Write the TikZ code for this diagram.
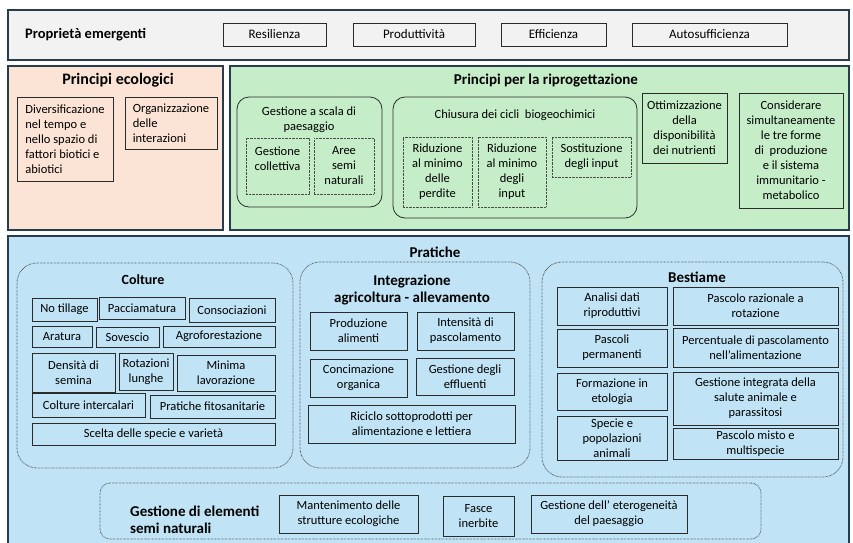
\documentclass[tikz,border=0pt]{standalone}
\usepackage{fontspec}
\setmainfont{Carlito}
\usetikzlibrary{positioning}
\definecolor{frameline}{HTML}{253D4F}
\definecolor{lightgrey}{HTML}{F2F2F2}
\definecolor{peach}{HTML}{FBE4D5}
\definecolor{mint}{HTML}{C5EEC8}
\definecolor{sky}{HTML}{C0E4F5}
\definecolor{boxline}{HTML}{2B2B2B}

\begin{document}
\begin{tikzpicture}[x=1pt,y=-1pt,font=\fontsize{12.5}{15}\selectfont,
sz/.style 2 args={minimum width=#1pt,minimum height=#2pt},
panel/.style={draw=frameline,line width=1.8pt,inner sep=0pt},
item/.style={draw=boxline,line width=.8pt,align=center,inner sep=1pt},
dotbox/.style={draw=boxline!85,dash pattern=on .6pt off .8pt,line width=.8pt,align=center,inner sep=1pt},
group/.style={draw=boxline,line width=.8pt,rounded corners=12pt,inner sep=0pt},
dotgroup/.style={draw=boxline!85,dash pattern=on .6pt off .8pt,line width=.8pt,rounded corners=20pt,inner sep=0pt},
head/.style={font=\fontsize{15}{17}\selectfont\bfseries,align=center,inner sep=0pt}]
\useasboundingbox[fill=white] (0,0) rectangle (853,542);
\node[panel,fill=lightgrey,sz={841}{50}] (props) at (428.5,35) {};
\node[head,font=\fontsize{14.5}{17}\selectfont\bfseries,anchor=west] (propstitle) at (25,35) {Proprietà emergenti};
\foreach \n/\x/\w/\t in {res/274.5/103/Resilienza,prod/414/122/Produttività,eff/553.5/105/Efficienza,auto/709.5/155/Autosufficienza}{\node[item,sz={\w}{23},font=\fontsize{13}{15}\selectfont] (\n) at (\x,34.5) {\t};}
\node[panel,fill=peach,sz={215}{164}] (eco) at (115.5,148) {};
\node[head,font=\fontsize{16}{18}\selectfont\bfseries] (ecotitle) at (118,80) {Principi ecologici};
\node[item,sz={96}{84},align=left] (divers) at (65,139) {Diversificazione\\nel tempo e\\nello spazio di\\fattori biotici e\\abiotici};
\node[item,sz={92}{52},align=left] (organ) at (171,123) {Organizzazione\\delle\\interazioni};
\node[panel,fill=mint,sz={619}{164}] (redesign) at (539.5,148) {};
\node[head] (redesigntitle) at (546,81) {Principi per la riprogettazione};
\node[group,sz={145}{110}] (landscape) at (309.5,152) {};
\node[align=center,inner sep=0pt] (landscapetxt) at (309,120) {Gestione a scala di\\paesaggio};
\node[dotbox,sz={63}{56}] (collective) at (277.5,166) {Gestione\\collettiva\\\mbox{}};
\node[dotbox,sz={60}{56}] (seminat) at (344,166) {Aree\\semi\\naturali};
\node[group,sz={244}{121}] (cycles) at (515,157.5) {};
\node[inner sep=0pt] (cyclestxt) at (515,115) {Chiusura dei cicli~ biogeochimici};
\node[dotbox,sz={69}{70}] (losses) at (437.5,172) {Riduzione\\al minimo\\delle\\perdite};
\node[dotbox,sz={68}{70}] (inputs) at (512,172) {Riduzione\\al minimo\\degli\\input};
\node[dotbox,sz={79}{40}] (subst) at (591.5,157) {Sostituzione\\degli input};
\node[item,sz={85}{70}] (nutr) at (684.5,128) {Ottimizzazione\\della\\disponibilità\\dei nutrienti};
\node[item,sz={104}{115}] (simult) at (791,150.5) {Considerare\\simultaneamente\\le tre forme\\di~ produzione\\e il sistema\\immunitario -\\metabolico};
\node[panel,fill=sky,sz={841}{310}] (practice) at (428.5,391) {};
\node[head] (practicetitle) at (435,252) {Pratiche};
\node[dotgroup,sz={276}{205}] (crops) at (155,365.5) {};
\node[head,font=\fontsize{14}{17}\selectfont\bfseries] (cropstitle) at (143,280) {Colture};
\node[item,sz={65}{23}] (notill) at (64.5,309.5) {No tillage};
\node[item,sz={86}{22}] (mulch) at (142,308) {Pacciamatura};
\node[item,sz={86}{24}] (intercrop) at (232,310) {Consociazioni};
\node[item,sz={60}{21}] (plough) at (62,336.5) {Aratura};
\node[item,sz={63}{20}] (green) at (127.5,337) {Sovescio};
\node[item,sz={112}{21}] (agrofor) at (219,336.5) {Agroforestazione};
\node[item,sz={83}{39}] (density) at (73.5,372.5) {Densità di\\semina};
\node[item,sz={54}{37}] (rotation) at (146,371.5) {Rotazioni\\lunghe};
\node[item,sz={98}{36}] (mintill) at (226,373) {Minima\\lavorazione};
\node[item,sz={113}{24}] (relay) at (88.5,405) {Colture intercalari};
\node[item,sz={125}{23}] (phyto) at (212.5,406.5) {Pratiche fitosanitarie};
\node[item,sz={243}{22}] (varieties) at (153.5,434) {Scelta delle specie e varietà};
\node[dotgroup,sz={230}{206}] (integr) at (415,365) {};
\node[head] (integrtitle) at (412,290) {Integrazione\\agricoltura - allevamento};
\node[item,sz={97}{38}] (feed) at (358.5,331) {Produzione\\alimenti};
\node[item,sz={97}{38}] (grazing) at (465.5,331) {Intensità di\\pascolamento};
\node[item,sz={97}{38}] (manure) at (358.5,378) {Concimazione\\organica};
\node[item,sz={98}{37}] (effluents) at (465,376.5) {Gestione degli\\effluenti};
\node[item,sz={207}{38}] (recycle) at (411.5,424) {Riciclo sottoprodotti per\\alimentazione e lettiera};
\node[dotgroup,sz={301}{215}] (livestock) at (692.5,369.5) {};
\node[head] (livestocktitle) at (697,277) {Bestiame};
\node[item,sz={110}{38}] (repro) at (612,306) {Analisi dati\\riproduttivi};
\node[item,sz={110}{38}] (pastures) at (612,348) {Pascoli\\permanenti};
\node[item,sz={110}{37}] (ethology) at (612,391.5) {Formazione in\\etologia};
\node[item,sz={110}{44}] (breeds) at (612,438) {Specie e\\popolazioni\\animali};
\node[item,sz={165}{38}] (rotgraze) at (755.5,306) {Pascolo razionale a\\rotazione};
\node[item,sz={165}{39}] (share) at (755.5,347.5) {Percentuale di pascolamento\\nell’alimentazione};
\node[item,sz={165}{53}] (health) at (755.5,398.5) {Gestione integrata della\\salute animale e\\parassitosi};
\node[item,sz={165}{31}] (mixed) at (755.5,443.5) {Pascolo misto e\\multispecie};
\node[dotgroup,rounded corners=10pt,sz={661}{56}] (seminatural) at (430.5,511) {};
\node[head,align=left,anchor=west] (seminaturaltitle) at (130,520) {Gestione di elementi\\semi naturali};
\node[item,sz={139}{38}] (structures) at (348.5,514) {Mantenimento delle\\strutture ecologiche};
\node[item,sz={71}{40}] (strips) at (478.5,516) {Fasce\\inerbite};
\node[item,sz={156}{38}] (hetero) at (609,514) {Gestione dell’ eterogeneità\\del paesaggio};
\end{tikzpicture}
\end{document}
